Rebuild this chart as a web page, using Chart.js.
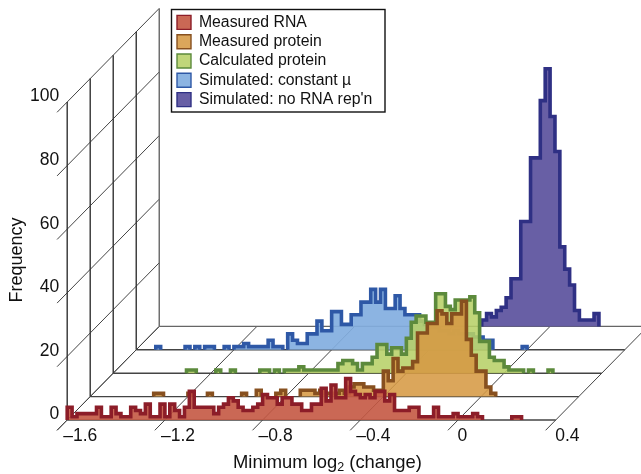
<!DOCTYPE html>
<html>
<head>
<meta charset="utf-8">
<style>
  body { margin: 0; background: #fff; }
  canvas { display: block; }
</style>
<script src="https://cdn.jsdelivr.net/npm/chart.js@4"></script>
</head>
<body>
<canvas id="chart" width="641" height="474"></canvas>
<script>
const seriesNames = ["Measured RNA", "Measured protein", "Calculated protein", "Simulated: constant \u00b5", "Simulated: no RNA rep'n"];
const xTicks = [-1.6, -1.2, -0.8, -0.4, 0, 0.4];
const xTickLabels = ["\u20131.6", "\u20131.2", "\u20130.8", "\u20130.4", "\u20090", "\u20090.4"];
const yTicks = [0, 20, 40, 60, 80, 100];
const binStart = -1.6;
const binWidth = 0.02;

// counts per bin (100 bins from -1.6 to 0.4)
const measuredRna = [
  4, 1, 2, 2, 2, 2, 4, 1, 1, 4,
  2, 1, 1, 4, 3, 2, 5, 1, 1, 5,
  1, 5, 3, 1, 4, 9, 4, 4, 4, 4,
  2, 4, 5, 7, 6, 4, 3, 3, 4, 5,
  8, 7, 7, 5, 7, 7, 5, 5, 3, 3,
  5, 5, 10, 6, 11, 7, 7, 13, 9, 8,
  7, 8, 7, 9, 9, 6, 8, 3, 3, 3,
  4, 4, 1, 1, 1, 4, 1, 1, 1, 2,
  1, 1, 1, 2, 1, 0, 0, 0, 0, 0,
  0, 1, 1, 0, 0, 0, 0, 0, 0, 0
];
const measuredProtein = [
  0, 0, 0, 0, 0, 0, 0, 0, 0, 0,
  0, 0, 0, 1, 1, 0, 0, 0, 0, 0,
  1, 0, 0, 0, 1, 0, 0, 0, 0, 0,
  0, 1, 0, 0, 2, 0, 0, 0, 1, 2,
  0, 0, 0, 2, 2, 2, 1, 2, 1, 1,
  1, 2, 1, 3, 4, 4, 3, 3, 2, 2,
  8, 5, 12, 8, 9, 9, 11, 20, 20, 23,
  23, 27, 26, 23, 26, 26, 30, 18, 13, 8,
  8, 3, 1, 0, 0, 0, 0, 0, 0, 0,
  0, 0, 0, 0, 0, 0, 0, 0, 0, 0
];
const calculatedProtein = [
  0, 0, 0, 0, 0, 0, 0, 0, 0, 0,
  0, 0, 0, 0, 0, 1, 1, 0, 0, 0,
  0, 1, 0, 0, 1, 0, 0, 0, 0, 0,
  1, 1, 0, 1, 0, 1, 1, 1, 2, 1,
  1, 1, 1, 1, 1, 1, 3, 4, 4, 3,
  1, 3, 3, 5, 9, 9, 6, 8, 8, 6,
  11, 16, 18, 18, 16, 16, 25, 25, 21, 20,
  23, 23, 23, 24, 19, 10, 10, 5, 4, 4,
  2, 1, 1, 1, 0, 1, 0, 0, 0, 1,
  0, 0, 0, 0, 0, 0, 0, 0, 0, 0
];
const simulatedConstant = [
  0, 0, 0, 0, 1, 0, 0, 0, 0, 0,
  1, 0, 1, 0, 1, 1, 0, 0, 1, 0,
  1, 1, 2, 1, 1, 1, 1, 3, 1, 1,
  0, 5, 3, 2, 2, 5, 5, 9, 6, 6,
  12, 12, 8, 8, 11, 11, 15, 15, 19, 15,
  19, 13, 13, 17, 13, 11, 11, 11, 9, 8,
  7, 7, 6, 6, 5, 6, 5, 5, 5, 4,
  4, 3, 3, 0, 0, 0, 0, 0, 0, 1,
  0, 0, 0, 0, 0, 0, 0, 0, 0, 0,
  0, 0, 0, 0, 0, 0, 0, 0, 0, 0
];
const simulatedNoRep = [
  0, 0, 0, 0, 0, 0, 0, 0, 0, 0,
  0, 0, 0, 0, 0, 0, 0, 0, 0, 0,
  0, 0, 0, 0, 0, 0, 0, 0, 0, 0,
  0, 0, 0, 0, 0, 0, 0, 0, 0, 0,
  0, 0, 0, 0, 0, 0, 0, 0, 0, 0,
  0, 0, 0, 0, 0, 0, 0, 0, 0, 0,
  0, 0, 0, 0, 0, 0, 2, 4, 3, 5,
  6, 9, 15, 15, 33, 33, 53, 53, 71, 81,
  66, 55, 25, 18, 13, 5, 2, 2, 2, 4,
  0, 0, 0, 0, 0, 0, 0, 0, 0, 0
];

const seriesValues = [measuredRna, measuredProtein, calculatedProtein, simulatedConstant, simulatedNoRep];
const fillColors = ["rgba(196,88,66,0.9)", "rgba(214,154,68,0.88)", "rgba(183,208,104,0.88)", "rgba(130,174,224,0.92)", "rgba(96,86,160,0.95)"];
const lineColors = ["#8c1d28", "#87501f", "#5c8a3c", "#2e58a6", "#2f3084"];

// oblique projection: one step back in depth, in data units
const depthX = 0.0942;
const depthY = 7.36;
const project = (x, y, depth) => ({ x: x + depth * depthX, y: y + depth * depthY });

// turns bin counts into an outline, empty bins leave a gap in the line
function outline(values, depth) {
  const points = [];
  let open = false;
  values.forEach((v, i) => {
    const left = binStart + i * binWidth;
    const right = left + binWidth;
    const next = i + 1 < values.length ? values[i + 1] : 0;
    if (v > 0) {
      if (!open) points.push(project(left, 0, depth));
      points.push(project(left, v, depth));
      points.push(project(right, v, depth));
      open = true;
      if (next === 0) {
        points.push(project(right, 0, depth));
        points.push({ x: null, y: null });
        open = false;
      }
    }
  });
  return points;
}

const seriesDatasets = seriesNames.map((name, s) => ({
  label: name,
  data: outline(seriesValues[s], s),
  showLine: true,
  pointRadius: 0,
  borderColor: lineColors[s],
  backgroundColor: fillColors[s],
  borderWidth: 3.6,
  borderJoinStyle: "miter",
  fill: { value: s * depthY },
  spanGaps: false,
  clip: false
}));

function gridLine(from, to, color, width) {
  return {
    label: "grid",
    data: [from, to],
    showLine: true,
    pointRadius: 0,
    borderColor: color,
    borderWidth: width,
    fill: false,
    clip: false
  };
}

const gridDatasets = [];
const xEnd = xTicks[xTicks.length - 1];
const backDepth = 4;
const tickDepth = -0.44;
// floor lines going across, and the upright lines of the side wall
for (let d = 0; d <= backDepth; d++) {
  gridDatasets.push(gridLine(project(binStart, 0, d), project(xEnd, 0, d), d === 4 ? "#666" : "#444", 1.4));
  gridDatasets.push(gridLine(project(binStart, 0, d), project(binStart, 100, d), d === 4 ? "#666" : "#333", 1.4));
}
// floor lines going back
xTicks.forEach((v) => {
  gridDatasets.push(gridLine(project(v, 0, tickDepth), project(v, 0, backDepth), "#444", 1));
});
// side wall lines going back
yTicks.forEach((v) => {
  gridDatasets.push(gridLine(project(binStart, v, tickDepth), project(binStart, v, backDepth), "#444", 1));
});

const placeLegend = {
  id: "placeLegend",
  afterLayout(chart) {
    const legend = chart.legend;
    const w = legend.width;
    const h = legend.height;
    legend.left = 173.5;
    legend.right = legend.left + w;
    legend.top = 11;
    legend.bottom = legend.top + h;
  },
  afterDraw(chart) {
    const ctx = chart.ctx;
    ctx.save();
    ctx.strokeStyle = "#111";
    ctx.lineWidth = 1.4;
    ctx.strokeRect(171.5, 9.5, 213.5, 102.5);

    // axis titles
    ctx.fillStyle = "#111";
    ctx.textBaseline = "middle";
    ctx.font = "18.4px 'Liberation Sans'";
    ctx.textAlign = "left";
    let x = 233;
    const y = 463;
    ctx.fillText("Minimum log", x, y);
    x += ctx.measureText("Minimum log").width;
    ctx.font = "12.5px 'Liberation Sans'";
    ctx.fillText("2", x, y + 5);
    x += ctx.measureText("2").width;
    ctx.font = "18.4px 'Liberation Sans'";
    ctx.fillText(" (change)", x, y);

    ctx.translate(17, 260);
    ctx.rotate(-Math.PI / 2);
    ctx.textAlign = "center";
    ctx.font = "18px 'Liberation Sans'";
    ctx.fillText("Frequency", 0, 0);
    ctx.restore();
  }
};

new Chart(document.getElementById("chart"), {
  type: "scatter",
  data: { datasets: seriesDatasets.concat(gridDatasets) },
  plugins: [placeLegend],
  options: {
    responsive: false,
    animation: false,
    layout: { padding: { top: 8, right: 0, bottom: 0, left: 0 } },
    scales: {
      x: {
        type: "linear",
        min: binStart,
        max: 0.749,
        grid: { display: false, drawTicks: false },
        border: { display: false },
        afterFit(scale) {
          scale.height = 54;
          scale.paddingLeft = 0;
          scale.paddingRight = 0;
        },
        afterBuildTicks(scale) { scale.ticks = xTicks.map((v) => ({ value: v })); },
        ticks: {
          align: "start",
          labelOffset: -4,
          padding: 6,
          autoSkip: false,
          maxRotation: 0,
          color: "#111",
          font: { family: "'Liberation Sans'", size: 17.5 },
          callback: (v) => xTickLabels[xTicks.findIndex((t) => Math.abs(t - v) < 1e-6)]
        }
      },
      y: {
        type: "linear",
        min: 0,
        max: 129.56,
        grid: { display: false, drawTicks: false },
        border: { display: false },
        afterFit(scale) {
          scale.width = 67.2;
          scale.paddingTop = 0;
          scale.paddingBottom = 0;
        },
        afterBuildTicks(scale) { scale.ticks = yTicks.map((v) => ({ value: v })); },
        ticks: {
          labelOffset: -5.5,
          padding: 8,
          color: "#111",
          font: { family: "'Liberation Sans'", size: 17.5 }
        }
      }
    },
    plugins: {
      tooltip: { enabled: false },
      legend: {
        position: "chartArea",
        align: "start",
        labels: {
          boxWidth: 14,
          boxHeight: 14,
          padding: 3.5,
          color: "#111",
          font: { family: "'Liberation Sans'", size: 15.8 },
          filter: (item) => seriesNames.includes(item.text),
          generateLabels(chart) {
            const items = Chart.defaults.plugins.legend.labels.generateLabels(chart);
            items.forEach((item) => { item.lineWidth = 1.4; });
            return items;
          }
        }
      }
    }
  }
});
</script>
</body>
</html>
